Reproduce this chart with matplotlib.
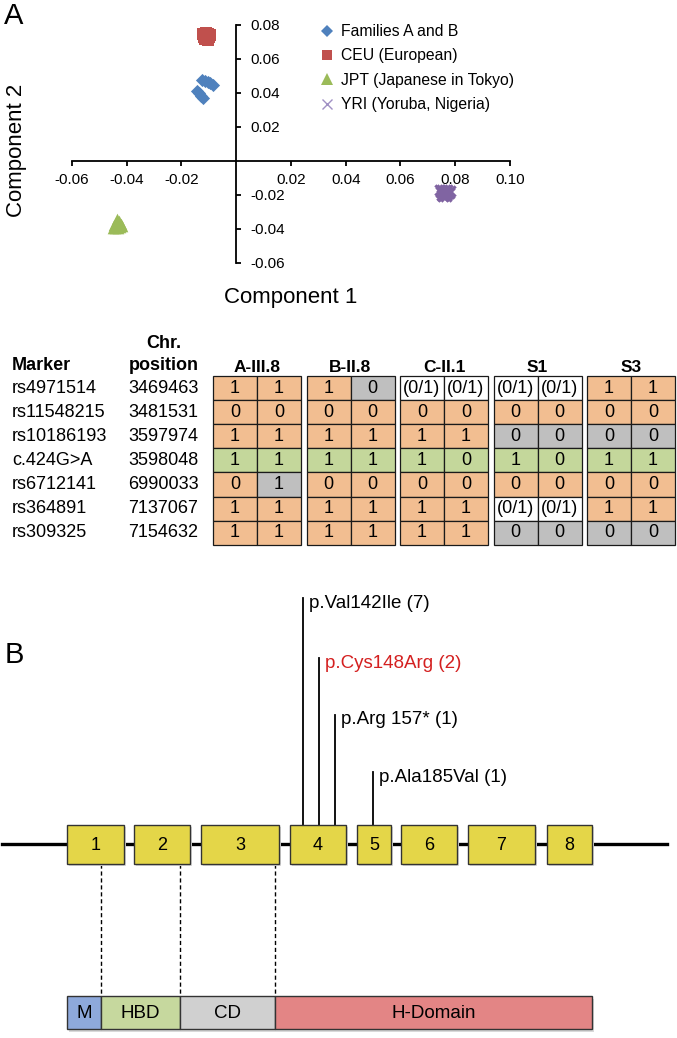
import matplotlib.pyplot as plt
from matplotlib.patches import Rectangle
from matplotlib.lines import Line2D

plt.rcParams["font.family"] = ["Liberation Sans", "DejaVu Sans"]
plt.rcParams["axes.unicode_minus"] = False

W, H = 677, 1038

# ---------------- panel A: PCA
fam_x = [-0.0124, -0.0115, -0.0105, -0.0095, -0.0086, -0.0142, -0.0135, -0.0128, -0.0121]
fam_y = [0.0476, 0.0472, 0.0466, 0.0456, 0.0448, 0.0412, 0.0400, 0.0384, 0.0370]
ceu_x = [-0.0121, -0.0112, -0.0103, -0.0097, -0.0119, -0.0109, -0.0100, -0.0115, -0.0105]
ceu_y = [0.0748, 0.0752, 0.0749, 0.0742, 0.0732, 0.0735, 0.0728, 0.0716, 0.0714]
jpt_x = [-0.0452, -0.0443, -0.0433, -0.0423, -0.0416, -0.0447, -0.0437,
         -0.0428, -0.0420, -0.0441, -0.0430, -0.0436]
jpt_y = [-0.0392, -0.0396, -0.0394, -0.0390, -0.0383, -0.0378, -0.0374,
         -0.0376, -0.0370, -0.0358, -0.0352, -0.0340]
yri_x = [0.0743, 0.0752, 0.0761, 0.0770, 0.0779, 0.0747, 0.0757, 0.0767,
         0.0776, 0.0750, 0.0760, 0.0770, 0.0755, 0.0765]
yri_y = [-0.0172, -0.0168, -0.0172, -0.0170, -0.0175, -0.0185, -0.0188, -0.0184,
         -0.0190, -0.0198, -0.0201, -0.0197, -0.0207, -0.0205]
groups = ["Families A and B", "CEU (European)", "JPT (Japanese in Tokyo)", "YRI (Yoruba, Nigeria)"]
x_ticks = [-0.06, -0.04, -0.02, 0.02, 0.04, 0.06, 0.08, 0.10]
y_ticks = [-0.06, -0.04, -0.02, 0.02, 0.04, 0.06, 0.08]

# ---------------- panel A: haplotype table
markers = ["rs4971514", "rs11548215", "rs10186193", "c.424G>A", "rs6712141", "rs364891", "rs309325"]
positions = ["3469463", "3481531", "3597974", "3598048", "6990033", "7137067", "7154632"]
samples = ["A-III.8", "B-II.8", "C-II.1", "S1", "S3"]
genotypes = {
    "A-III.8": [["1", "1"], ["0", "0"], ["1", "1"], ["1", "1"], ["0", "1"], ["1", "1"], ["1", "1"]],
    "B-II.8": [["1", "0"], ["0", "0"], ["1", "1"], ["1", "1"], ["0", "0"], ["1", "1"], ["1", "1"]],
    "C-II.1": [["(0/1)", "(0/1)"], ["0", "0"], ["1", "1"], ["1", "0"], ["0", "0"], ["1", "1"], ["1", "1"]],
    "S1": [["(0/1)", "(0/1)"], ["0", "0"], ["0", "0"], ["1", "0"], ["0", "0"], ["(0/1)", "(0/1)"], ["0", "0"]],
    "S3": [["1", "1"], ["0", "0"], ["0", "0"], ["1", "1"], ["0", "0"], ["1", "1"], ["0", "0"]],
}
# o = shared, g = mutation, n = not shared, w = uninformative
status = {
    "A-III.8": ["oo", "oo", "oo", "gg", "on", "oo", "oo"],
    "B-II.8": ["on", "oo", "oo", "gg", "oo", "oo", "oo"],
    "C-II.1": ["ww", "oo", "oo", "gg", "oo", "oo", "oo"],
    "S1": ["ww", "oo", "nn", "gg", "oo", "ww", "nn"],
    "S3": ["oo", "oo", "nn", "gg", "oo", "oo", "nn"],
}
status_colors = {"o": "#F2BE91", "g": "#C4D79B", "n": "#BFBFBF", "w": "#FFFFFF"}

# ---------------- panel B: gene schematic (horizontal units = px of the schematic)
exon_start = [67, 134, 201, 290, 357, 401, 468, 547]
exon_end = [124, 190, 279, 346, 391, 457, 535, 592]
mut_names = ["p.Val142Ile (7)", "p.Cys148Arg (2)", "p.Arg 157* (1)", "p.Ala185Val (1)"]
mut_pos = [303, 319, 335, 373]
mut_level = [603, 663, 720, 777]
mut_colors = ["black", "#D42020", "black", "black"]
domain_names = ["M", "HBD", "CD", "H-Domain"]
domain_start = [67, 101, 180, 275]
domain_end = [101, 180, 275, 592]
domain_colors = ["#8EA9DB", "#C6D89E", "#D0D0D0", "#E38585"]

fig = plt.figure(figsize=(W / 100, H / 100), dpi=100)
ov = fig.add_axes([0, 0, 1, 1])
ov.set_xlim(0, W)
ov.set_ylim(H, 0)
ov.axis("off")

# scatter
ax = fig.add_axes([72 / W, 1 - 263 / H, 438 / W, 238 / H])
ax.patch.set_alpha(0)
ax.set_xlim(-0.06, 0.10)
ax.set_ylim(-0.06, 0.08)
ax.scatter(ceu_x, ceu_y, marker="s", s=75, color="#C0504D", lw=0, clip_on=False)
ax.scatter(fam_x, fam_y, marker="D", s=45, color="#4F81BD", lw=0, clip_on=False)
ax.scatter(jpt_x, jpt_y, marker="^", s=70, color="#9BBB59", lw=0, clip_on=False)
ax.scatter(yri_x, yri_y, marker="x", s=55, color="#8064A2", lw=2.2, clip_on=False)
for side in ["top", "left"]:
    ax.spines[side].set_visible(False)
ax.spines["bottom"].set_position(("data", 0))
ax.spines["right"].set_position(("data", 0))
for side in ["bottom", "right"]:
    ax.spines[side].set_linewidth(1.3)
ax.xaxis.set_ticks_position("bottom")
ax.yaxis.set_ticks_position("right")
ax.set_xticks(x_ticks)
ax.set_xticklabels([f"{v:.2f}" for v in x_ticks])
ax.set_yticks(y_ticks)
ax.set_yticklabels([f"{v:.2f}" for v in y_ticks])
ax.tick_params(axis="x", direction="out", length=3.5, width=1.3, pad=5, labelsize=11)
ax.tick_params(axis="y", direction="out", length=3.5, width=1.3, pad=7, labelsize=11)

handles = [
    Line2D([], [], ls="", marker="D", ms=6, color="#4F81BD", mew=0),
    Line2D([], [], ls="", marker="s", ms=7.5, color="#C0504D", mew=0),
    Line2D([], [], ls="", marker="^", ms=8, color="#9BBB59", mew=0),
    Line2D([], [], ls="", marker="x", ms=7.5, color="#A090C4", mew=1),
]
ax.legend(handles, groups, loc="upper left", bbox_to_anchor=(320 / W, 1 - 24 / H),
          bbox_transform=fig.transFigure, frameon=False, fontsize=11.3,
          handlelength=0.9, handletextpad=0.45, labelspacing=0.6,
          borderpad=0, borderaxespad=0)

ov.text(14, 16, "A", fontsize=21, ha="center", va="center")
ov.text(291, 297, "Component 1", fontsize=16, ha="center", va="center")
ov.text(17, 150, "Component 2", fontsize=16, ha="center", va="center", rotation=90)

# table
row_y0, row_h = 376, 24.1
block_x0, block_pitch, cell_w = 213, 93.5, 44
ov.text(12, 366, "Marker", fontsize=13, fontweight="bold", ha="left", va="center")
ov.text(164, 344, "Chr.", fontsize=13, fontweight="bold", ha="center", va="center")
ov.text(164, 366, "position", fontsize=13, fontweight="bold", ha="center", va="center")
for ri, (m, p) in enumerate(zip(markers, positions)):
    yc = row_y0 + (ri + 0.5) * row_h
    ov.text(12, yc, m, fontsize=13, ha="left", va="center")
    ov.text(128, yc, p, fontsize=13, ha="left", va="center")
for gi, s in enumerate(samples):
    x0 = block_x0 + gi * block_pitch
    ov.text(x0 + cell_w, 367, s, fontsize=12.5, fontweight="bold", ha="center", va="center")
    for ri in range(len(markers)):
        for ci in range(2):
            ov.add_patch(Rectangle((x0 + ci * cell_w, row_y0 + ri * row_h), cell_w, row_h,
                                   fc=status_colors[status[s][ri][ci]], ec="#1a1a1a", lw=0.9))
            ov.text(x0 + (ci + 0.5) * cell_w, row_y0 + (ri + 0.5) * row_h, genotypes[s][ri][ci],
                    fontsize=13, ha="center", va="center")

# panel B
ov.text(14, 655, "B", fontsize=21, ha="center", va="center")
box_top, box_bot, line_y = 825, 864, 844
ov.plot([2, 667], [line_y, line_y], color="black", lw=2.4, zorder=1)
for i, (a, b) in enumerate(zip(exon_start, exon_end)):
    ov.add_patch(Rectangle((a + 2, box_top + 2), b - a, box_bot - box_top, fc="#D9D9D9",
                           ec="none", zorder=1.5))
    ov.add_patch(Rectangle((a, box_top), b - a, box_bot - box_top, fc="#E4D648",
                           ec="#333333", lw=1, zorder=2))
    ov.text((a + b) / 2, line_y + 1, str(i + 1), fontsize=13, ha="center", va="center", zorder=3)
for name, xp, lev, c in zip(mut_names, mut_pos, mut_level, mut_colors):
    ov.plot([xp, xp], [lev - 5, box_top], color="black", lw=1.3, zorder=1)
    ov.text(xp + 6, lev, name, fontsize=13.5, color=c, ha="left", va="center")

bar_top, bar_bot = 996, 1029
for xd in domain_end[:3]:
    ov.plot([xd, xd], [box_bot, bar_top], color="black", lw=1, ls=(0, (3, 2)), zorder=1)
ov.add_patch(Rectangle((domain_start[0] + 2, bar_top + 3), domain_end[-1] - domain_start[0],
                       bar_bot - bar_top, fc="#D9D9D9", ec="none", zorder=0.5))
for name, a, b, c in zip(domain_names, domain_start, domain_end, domain_colors):
    ov.add_patch(Rectangle((a, bar_top), b - a, bar_bot - bar_top, fc=c, ec="#333333", lw=1))
    ov.text((a + b) / 2, (bar_top + bar_bot) / 2 + 1, name, fontsize=13.5, ha="center", va="center")

fig.savefig("out.png", dpi=100)
